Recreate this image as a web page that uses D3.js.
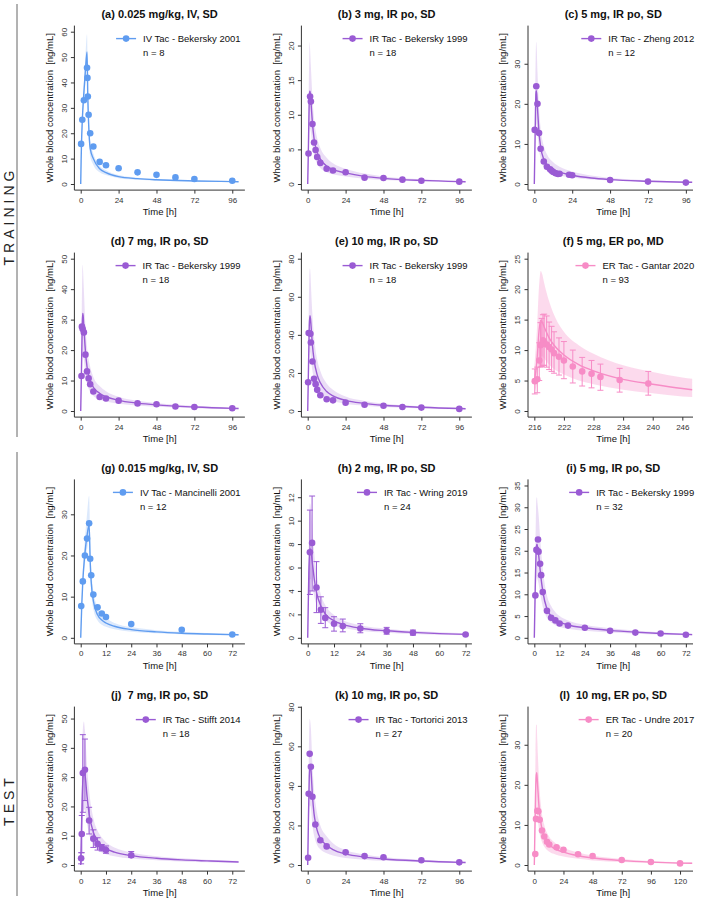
<!DOCTYPE html>
<html><head><meta charset="utf-8">
<script src="https://cdn.jsdelivr.net/npm/d3@7"></script>
<style>
body{margin:0;background:#fff;}
svg{display:block;font-family:"Liberation Sans",Arial,Helvetica,sans-serif;}
</style></head><body>
<svg id="chart" width="709" height="904"></svg>
<script>
// ---------------- DATA ----------------
const panelTitles = ["(a) 0.025 mg/kg, IV, SD","(b) 3 mg, IR po, SD","(c) 5 mg, IR po, SD",
  "(d) 7 mg, IR po, SD","(e) 10 mg, IR po, SD","(f) 5 mg, ER po, MD",
  "(g) 0.015 mg/kg, IV, SD","(h) 2 mg, IR po, SD","(i) 5 mg, IR po, SD",
  "(j)  7 mg, IR po, SD","(k) 10 mg, IR po, SD","(l)  10 mg, ER po, SD"];
const studyLabels = ["IV Tac - Bekersky 2001","IR Tac - Bekersky 1999","IR Tac - Zheng 2012",
  "IR Tac - Bekersky 1999","IR Tac - Bekersky 1999","ER Tac - Gantar 2020",
  "IV Tac - Mancinelli 2001","IR Tac - Wring 2019","IR Tac - Bekersky 1999",
  "IR Tac - Stifft 2014","IR Tac - Tortorici 2013","ER Tac - Undre 2017"];
const nSubjects = [8,18,12,18,18,93,12,24,32,18,27,20];
const formulations = ["IV","IR","IR","IR","IR","ER","IV","IR","IR","IR","IR","ER"];
const xLimits = [[0,100],[0,100],[0,100],[0,100],[0,100],[216,248],[0,75],[0,72],[0,75],[0,75],[0,100],[0,130]];
const yLimits = [[0,60],[0,22],[0,38],[0,50],[0,80],[0,25],[0,37],[0,13],[0,35],[0,52],[0,77],[0,38]];
const xTickLabels = [[0,24,48,72,96],[0,24,48,72,96],[0,24,48,72,96],
  [0,24,48,72,96],[0,24,48,72,96],[216,222,228,234,240,246],
  [0,12,24,36,48,60,72],[0,12,24,36,48,60,72],[0,12,24,36,48,60,72],
  [0,12,24,36,48,60,72],[0,24,48,72,96],[0,24,48,72,96,120]];
const yTickLabels = [[0,10,20,30,40,50,60],[0,5,10,15,20],[0,10,20,30],
  [0,10,20,30,40,50],[0,20,40,60,80],[0,5,10,15,20,25],
  [0,10,20,30],[0,2,4,6,8,10,12],[0,5,10,15,20,25,30,35],
  [0,10,20,30,40,50],[0,20,40,60,80],[0,10,20,30]];
const sectionNames = ["TRAINING","TEST"];

// model predictions: [time, lower, median, upper]
const predA = [[0,0,0,0],[0.25,8,9,10.5],[0.5,14,16,18],[1,22,25,28],[2,32,36,40],[3,40,45,50],[4,46,52,59],
  [4.5,29,34,40],[5,20,24,29],[6,11,14,17],[8,7.5,10,12],[12,4.6,6,7.2],[16,3.5,4.5,5.4],[24,2.3,2.9,3.5],
  [36,1.65,2.1,2.5],[48,1.3,1.65,2.0],[72,0.95,1.2,1.45],[96,0.75,0.95,1.15],[100,0.72,0.9,1.1]];
const predB = [[0,0,0,0],[0.5,3,6,9],[1,7,12.5,19],[1.25,8,13.4,20.5],[1.5,8,13.3,19.5],[2,7.5,12,17],
  [3,5.5,8.8,12.5],[4,4.2,6.6,9.5],[6,2.9,4.6,6.6],[8,2.3,3.6,5.2],[12,1.7,2.6,3.8],[16,1.4,2.1,3.0],
  [24,1.1,1.6,2.2],[36,0.75,1.1,1.5],[48,0.57,0.82,1.1],[72,0.36,0.52,0.7],[96,0.24,0.35,0.47],[100,0.22,0.33,0.44]];
const predC = [[0,0,0,0],[0.5,7,12,18],[1,14,22.5,34],[1.2,15,23.3,35.5],[1.5,14.5,22.5,34],[2,12.5,19,28],
  [3,8.5,12.8,19],[4,6.3,9.3,14],[6,4.2,6.2,9.5],[8,3.3,4.8,7.4],[12,2.5,3.6,5.4],[16,2.1,2.95,4.3],
  [24,1.6,2.2,3.1],[36,1.1,1.5,2.1],[48,0.85,1.1,1.5],[72,0.52,0.7,0.95],[96,0.34,0.45,0.6],[100,0.32,0.42,0.57]];
const predD = [[0,0,0,0],[0.5,8,14,22],[1,17,29,45],[1.25,19,32,48],[1.5,19,31.5,46],[2,17,27.5,40],
  [3,12,19.5,28],[4,9,14.5,21],[6,6.2,10,14.5],[8,4.9,7.8,11.2],[12,3.7,5.8,8.2],[16,3.1,4.7,6.5],
  [24,2.4,3.5,4.7],[36,1.8,2.6,3.4],[48,1.4,2.0,2.6],[72,0.9,1.3,1.7],[96,0.6,0.88,1.15],[100,0.57,0.83,1.1]];
const predE = [[0,0,0,0],[0.5,14,23,35],[1,28,45,70],[1.4,31,50,75],[1.75,30,48.5,72],[2,28,46,67],
  [3,21,34.5,50],[4,16.5,27,39],[6,11.5,19,27],[8,9,14.8,21],[12,6.5,10.2,14.5],[16,5.2,8.0,11.2],
  [24,3.8,5.6,7.6],[36,2.8,4.0,5.3],[48,2.1,3.0,3.9],[72,1.35,1.95,2.5],[96,0.9,1.3,1.7],[100,0.85,1.22,1.6]];
const predF = [[216,2.9,4.8,7.2],[216.5,4.5,8,13],[217,8,13.5,21],[217.3,9,14.9,23],[217.6,9,14.6,22.5],
  [218,8.6,13.8,21],[219,7.6,12,18],[220,6.9,10.8,15.8],[222,6.0,9.2,13],[225,5.0,7.6,10.8],
  [228,4.4,6.6,9.4],[234,3.5,5.2,7.5],[240,2.9,4.4,6.4],[246,2.4,3.7,5.5],[248,2.3,3.5,5.3]];
const predG = [[0,0,0,0],[0.5,7,8,9.5],[1,12,13.8,16],[2,18,20.5,24],[3,21.5,24.8,30],[4,24,27.5,34.5],
  [4.5,15.5,18.5,23],[5,11,13.5,17],[6,7,9,11.5],[8,4.2,5.6,7.5],[10,3.2,4.3,5.8],[12,2.7,3.6,4.8],
  [16,2.1,2.8,3.6],[24,1.5,2.0,2.6],[36,1.1,1.45,1.85],[48,0.85,1.12,1.4],[60,0.7,0.92,1.15],
  [72,0.58,0.77,0.96],[75,0.56,0.74,0.93]];
const predH = [[0,0,0,0],[0.5,3.5,5.5,8.5],[1,5,7.6,11.5],[1.5,5,7.4,11],[2,4.5,6.6,9.8],[3,3.5,5.0,7.2],
  [4,2.8,3.9,5.6],[6,1.9,2.7,3.7],[8,1.5,2.05,2.8],[12,1.05,1.45,1.95],[16,0.85,1.15,1.5],
  [24,0.6,0.82,1.08],[36,0.43,0.6,0.78],[48,0.33,0.46,0.6],[60,0.26,0.36,0.47],[72,0.21,0.29,0.38]];
const predI = [[0,0,0,0],[0.5,8,13,20],[1,13.5,21,32],[1.25,14,21.5,32.3],[1.5,13.5,21,31],[2,12.5,19.3,28.5],
  [3,9.5,14.5,21.5],[4,7.2,10.8,16],[6,4.6,6.6,9.8],[8,3.5,5.0,7.3],[10,2.9,4.1,5.9],[12,2.5,3.6,5.0],
  [16,2.1,2.95,4.0],[24,1.65,2.3,3.0],[36,1.2,1.7,2.2],[48,0.95,1.3,1.7],[60,0.75,1.0,1.3],
  [72,0.58,0.78,1.02],[75,0.55,0.74,0.97]];
const predJ = [[0,0,0,0],[0.5,10,17,28],[1,17,28.5,46],[1.5,19,32,49],[2,18.5,31,46],[3,14,23.5,34],
  [4,10.5,17.5,25.5],[6,7,11.2,16],[8,5.2,8.2,11.8],[10,4.3,6.6,9.4],[12,3.7,5.6,7.8],[16,3.0,4.4,6.0],
  [24,2.2,3.2,4.3],[36,1.6,2.3,3.0],[48,1.2,1.75,2.3],[60,0.95,1.4,1.8],[72,0.77,1.1,1.45],[75,0.74,1.05,1.4]];
const predK = [[0,0,0,0],[0.5,14,25,42],[1,27,45,70],[1.3,30,50,74],[1.7,30,50,72],[2,29,48.5,69],
  [3,20,35,51],[4,15,26,38],[5,12,21,31],[6,10,17.5,26],[8,8,13.5,20],[12,6,10,14.5],[16,4.8,7.8,11],
  [24,3.6,5.6,7.6],[36,2.7,4.0,5.3],[48,2.1,3.05,4.0],[72,1.35,2.0,2.6],[96,0.92,1.35,1.75],[100,0.87,1.27,1.65]];
const predL = [[0,0,0,0],[0.5,5,9,15],[1,10,17.5,28],[1.5,13,22,35],[2,13.5,23,35],[2.5,12.5,21,31],
  [3,11,18.5,27],[4,8.5,14,20.5],[6,6,9.5,13.5],[8,4.7,7.3,10.2],[12,3.4,5.2,7.2],[16,2.8,4.2,5.8],
  [24,2.1,3.2,4.3],[36,1.55,2.3,3.1],[48,1.15,1.75,2.35],[72,0.72,1.1,1.5],[96,0.48,0.72,1.0],
  [120,0.32,0.48,0.68],[130,0.28,0.42,0.6]];

// observed data: [time, conc] or [time, conc, lowerBar, upperBar]
const obsA = [[0.25,15.8],[1,25.3],[2,33.0],[4,45.8],[4.25,41.8],[4.5,34.5],[5,27.3],[6,20.0],[8,14.8],
  [12,8.7],[16,7.4],[24,6.2],[36,4.6],[48,3.6],[60,2.6],[72,2.0],[96,1.3]];
const obsB = [[0.5,4.4],[1.5,12.65],[2,11.9],[3,8.65],[4,6.0],[5,4.9],[6,3.9],[8,3.05],[12,2.2],[16,1.95],
  [24,1.7],[36,0.92],[48,0.87],[60,0.63],[72,0.48],[96,0.34]];
const obsC = [[0.25,13.5],[1.25,24.4],[2,20.0],[3,12.7],[4,8.8],[6,5.6],[8,4.3],[10,3.7],[11,3.3],[12,3.0],
  [13.5,2.7],[15,2.5],[16,2.55],[22,2.3],[24,2.2],[48,1.0],[72,0.6],[96,0.35]];
const obsD = [[0.5,11.5],[0.75,27.7],[1.25,26.9],[2,25.8],[3,18.5],[4,13.0],[5,10.7],[6,8.8],[8,6.4],
  [12,4.6],[16,4.1],[24,3.4],[36,2.5],[48,2.2],[60,1.5],[72,1.3],[96,0.9]];
const obsE = [[0.25,15.1],[0.6,41.0],[1.7,40.6],[2,36.0],[3,26.0],[4,16.9],[5,14.1],[6,11.1],[8,8.3],
  [12,6.2],[16,5.6],[24,4.4],[36,3.3],[48,2.8],[60,2.1],[72,1.8],[96,1.1]];
const obsF = [[216.1,4.9,2.8,6.9],[216.6,5.2,3.0,7.2],[217,8.3,5.0,11.2],[217.25,10.8,7.2,14.5],
  [217.5,11.0,7.3,15.2],[217.75,11.6,7.5,15.8],[218,11.3,7.5,15.9],[218.5,10.9,7.2,15.6],
  [219,10.5,6.8,14.6],[219.5,10.1,6.5,13.9],[220,9.5,6.2,13.0],[221,8.9,5.9,12.0],[222,8.3,5.3,11.4],
  [223.8,7.3,4.6,10.0],[225.7,6.5,4.1,8.8],[227.6,6.1,3.8,8.3],[229.4,5.6,3.4,7.7],[233.3,5.1,3.1,7.0],
  [239.1,4.5,2.6,6.5]];
const obsG = [[0.25,7.7],[1,13.7],[2,20.0],[3,24.1],[4,27.8],[4.5,19.2],[5,15.2],[6,10.5],[8,7.4],
  [10,5.9],[12,5.05],[24,3.35],[48,1.95],[72,0.8]];
const obsH = [[1,7.3,3.7,10.9],[2,8.1,4.0,12.1],[4,4.3,2.15,6.5],[6,2.4,1.23,3.5],[8,1.7,0.86,2.57],
  [12,1.2,0.57,1.8],[16,1.0,0.51,1.6],[24,0.8,0.43,1.2],[36,0.57,0.31,0.89],[48,0.43,0.23,0.66],
  [72,0.28,0.22,0.34]];
const obsI = [[0.5,9.75],[1,20.2],[1.75,22.6],[2,19.8],[2.75,17.0],[3.25,14.4],[4,10.5],[6,6.2],[8,4.6],
  [10,4.0],[12,3.3],[16,2.8],[24,2.3],[36,1.6],[48,1.2],[60,1.0],[72,0.7]];
const obsJ = [[0.2,2.3,0.4,4.2],[0.5,10.6,4.2,16.9],[1,31.4,18,44.5],[2,32.5,22,43],[4,15.2,10.6,19.7],
  [6,9.0,6.0,12.0],[8,7.2,5.1,9.3],[10,5.9,4.8,7.0],[12,5.1,4.0,6.5],[24,3.3,2.6,4.6]];
const obsK = [[0.25,3.7],[0.6,36.0],[1.25,56.2],[2,49.7],[3,34.5],[4.85,20.5],[8,12.5],[12,9.4],
  [24,6.4],[36,4.5],[48,3.9],[72,2.4],[96,1.35]];
const obsL = [[0.8,2.75],[1.4,11.5],[2.5,13.5],[3.3,13.4],[4.4,11.3],[6.3,8.6],[8.2,7.1],[10.4,5.8],
  [12.3,5.1],[18.3,4.4],[24,3.8],[36,2.7],[48,2.25],[72,1.25],[96,0.75],[120,0.4]];

const predictions = [predA,predB,predC,predD,predE,predF,predG,predH,predI,predJ,predK,predL];
const observations = [obsA,obsB,obsC,obsD,obsE,obsF,obsG,obsH,obsI,obsJ,obsK,obsL];

// ---------------- STYLE / LAYOUT ----------------
const colorOf = {IV:"#5f9cf0", IR:"#9a5bd4", ER:"#f78cc6"};
const bandOpacity = {IV:0.22, IR:0.2, ER:0.32};
const colLeft = [74.4, 301.4, 528];
const rowTop = [25.6, 252.6, 479.4, 706.6];
const boxW = 170.5, boxH = 164.5, cropRight = 693;
const axisColor = "#333";

const svg = d3.select("#chart");
const defs = svg.append("defs");

predictions.forEach((pred, i) => {
  const col = i % 3, row = Math.floor(i / 3);
  const left = colLeft[col], top = rowTop[row];
  const right = left + boxW, bottom = top + boxH;
  const visRight = Math.min(right, cropRight);
  const [xa, xb] = xLimits[i], [ya, yb] = yLimits[i];
  const xe = (xb - xa) * 0.04, ye = (yb - ya) * 0.04;
  const x = d3.scaleLinear().domain([xa - xe, xb + xe]).range([left, right]);
  const y = d3.scaleLinear().domain([ya - ye, yb + ye]).range([bottom, top]);
  const color = colorOf[formulations[i]];
  const g = svg.append("g");

  defs.append("clipPath").attr("id", "clip" + i)
    .append("rect").attr("x", left).attr("y", top - 20)
    .attr("width", visRight - left).attr("height", bottom - top + 20);

  const plot = g.append("g").attr("clip-path", `url(#clip${i})`);
  const area = d3.area().curve(d3.curveMonotoneX)
    .x(d => x(d[0])).y0(d => y(d[1])).y1(d => y(d[3]));
  plot.append("path").datum(pred).attr("d", area)
    .attr("fill", color).attr("fill-opacity", bandOpacity[formulations[i]]).attr("stroke", "none");

  const obs = observations[i];
  const lineObs = d3.line().x(d => x(d[0])).y(d => y(d[1]));
  // error bars
  obs.filter(d => d.length > 2).forEach(d => {
    plot.append("line").attr("x1", x(d[0])).attr("x2", x(d[0]))
      .attr("y1", y(d[2])).attr("y2", y(d[3])).attr("stroke", color).attr("stroke-width", 1);
    [d[2], d[3]].forEach(v => plot.append("line")
      .attr("x1", x(d[0]) - 3).attr("x2", x(d[0]) + 3).attr("y1", y(v)).attr("y2", y(v))
      .attr("stroke", color).attr("stroke-width", 1));
  });

  const med = d3.line().curve(d3.curveMonotoneX).x(d => x(d[0])).y(d => y(d[2]));
  plot.append("path").datum(pred).attr("d", med)
    .attr("fill", "none").attr("stroke", color).attr("stroke-width", 1.4);

  plot.selectAll("circle.obs").data(obs).join("circle").attr("class", "obs")
    .attr("cx", d => x(d[0])).attr("cy", d => y(d[1])).attr("r", 3.3).attr("fill", color);

  // box (L-shaped)
  g.append("line").attr("x1", left).attr("x2", left).attr("y1", top).attr("y2", bottom)
    .attr("stroke", axisColor).attr("stroke-width", 1);
  g.append("line").attr("x1", left).attr("x2", visRight).attr("y1", bottom).attr("y2", bottom)
    .attr("stroke", axisColor).attr("stroke-width", 1);

  // y axis
  const ya_ = g.append("g").attr("transform", `translate(${left},0)`)
    .call(d3.axisLeft(y).tickValues(yTickLabels[i]).tickSize(3.5).tickFormat(d3.format("d")));
  ya_.select(".domain").remove();
  ya_.selectAll(".tick line").attr("stroke", axisColor);
  ya_.selectAll(".tick text").attr("transform", "rotate(-90)").attr("x", 0).attr("y", -10.5)
    .attr("dy", "0.35em").attr("text-anchor", "middle").attr("fill", axisColor)
    .style("font-size", "8px").style("font-family", "Liberation Sans, Arial, sans-serif");

  // x axis
  const xa_ = g.append("g").attr("transform", `translate(0,${bottom})`)
    .call(d3.axisBottom(x).tickValues(xTickLabels[i]).tickSize(3.5).tickPadding(3.3).tickFormat(d3.format("d")));
  xa_.select(".domain").remove();
  xa_.selectAll(".tick line").attr("stroke", axisColor);
  xa_.selectAll(".tick text").attr("fill", axisColor)
    .style("font-size", "8px").style("font-family", "Liberation Sans, Arial, sans-serif");

  // axis titles
  g.append("text").attr("transform", `translate(${left - 25},${(top + bottom) / 2}) rotate(-90)`)
    .attr("dy", "0.35em").attr("text-anchor", "middle").style("white-space", "pre")
    .style("font-size", "9.5px").attr("fill", "#111").text("Whole blood concentration  [ng/mL]");
  g.append("text").attr("x", (left + right) / 2).attr("y", bottom + 25)
    .attr("text-anchor", "middle").style("font-size", "9.5px").attr("fill", "#111").text("Time [h]");

  // panel title
  g.append("text").attr("x", (left + right) / 2).attr("y", top - 7.8)
    .attr("text-anchor", "middle").style("font-size", "11px").style("font-weight", "bold")
    .style("white-space", "pre").attr("fill", "#111").text(panelTitles[i]);

  // legend
  const lt = g.append("text").attr("x", right - 4.3).attr("y", top + 16.3)
    .attr("text-anchor", "end").style("font-size", "9.5px").attr("fill", "#111").text(studyLabels[i]);
  const tw = lt.node().getComputedTextLength();
  const ts = right - 4.3 - tw;
  g.append("text").attr("x", ts).attr("y", top + 30.3).style("font-size", "9.5px")
    .attr("fill", "#111").text("n = " + nSubjects[i]);
  g.append("line").attr("x1", ts - 27).attr("x2", ts - 7).attr("y1", top + 13).attr("y2", top + 13)
    .attr("stroke", color).attr("stroke-width", 1.4);
  g.append("circle").attr("cx", ts - 17).attr("cy", top + 13).attr("r", 3.3).attr("fill", color);
});

// section labels
const sectionCenters = [216, 800];
const sectionSpans = [[4, 437], [452, 896]];
sectionNames.forEach((name, k) => {
  svg.append("text").attr("transform", `translate(9,${sectionCenters[k]}) rotate(-90)`)
    .attr("dy", "0.35em").attr("text-anchor", "middle")
    .style("font-size", "14px").style("letter-spacing", "4px").attr("fill", "#222").text(name);
  svg.append("line").attr("x1", 17).attr("x2", 17)
    .attr("y1", sectionSpans[k][0]).attr("y2", sectionSpans[k][1])
    .attr("stroke", "#666").attr("stroke-width", 1);
});
</script>
</body></html>
